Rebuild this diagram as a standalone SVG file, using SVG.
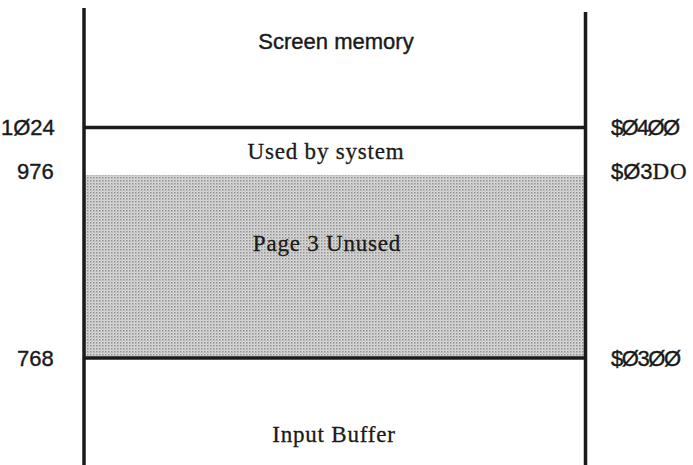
<svg xmlns="http://www.w3.org/2000/svg" width="693" height="465" viewBox="0 0 693 465">
<style>
.ln{stroke:#1a1a1a;stroke-width:3.5;fill:none}
.sans{font-family:"Liberation Sans",Arial,sans-serif;font-size:22px;fill:#1a1a1a;stroke:#1a1a1a;stroke-width:0.4}
.serif{font-family:"Liberation Serif","Times New Roman",serif;font-size:23px;letter-spacing:0.8px;fill:#1a1a1a;stroke:#1a1a1a;stroke-width:0.3}
.mid{text-anchor:middle}
</style>
<defs>
<pattern id="dots" width="3" height="3" patternUnits="userSpaceOnUse">
<rect width="3" height="3" fill="#dadada"/>
<rect x="0" y="0" width="1.5" height="1.5" fill="#8e8e8e"/>
<rect x="1.5" y="1.5" width="1" height="1" fill="#aaaaaa"/>
</pattern>
</defs>
<rect width="693" height="465" fill="#fff"/>
<g id="page3-unused">
<rect x="85" y="175" width="500" height="183" fill="url(#dots)"/>
<text class="serif mid" x="327" y="251">Page 3 Unused</text>
</g>
<g id="screen-memory">
<text class="sans mid" x="336" y="49">Screen memory</text>
</g>
<g id="used-by-system">
<text class="serif mid" x="326" y="159">Used by system</text>
</g>
<g id="input-buffer">
<text class="serif mid" x="334" y="442">Input Buffer</text>
</g>
<g id="connectors">
<line class="ln" x1="84" y1="8" x2="84" y2="465"/>
<line class="ln" x1="585.5" y1="12" x2="585.5" y2="465"/>
<line class="ln" x1="84" y1="127.5" x2="585.5" y2="127.5"/>
<line class="ln" x1="84" y1="358" x2="585.5" y2="358"/>
</g>
<g id="left-labels">
<text class="sans" x="1" y="135">1Ø24</text>
<text class="sans" x="17" y="179">976</text>
<text class="sans" x="17" y="366">768</text>
</g>
<g id="right-labels">
<text class="sans" x="611" y="135" textLength="69">$Ø4ØØ</text>
<text class="sans" x="611" y="179">$Ø3<tspan class="serif" letter-spacing="0">DO</tspan></text>
<text class="sans" x="611" y="366" textLength="70">$Ø3ØØ</text>
</g>
</svg>
